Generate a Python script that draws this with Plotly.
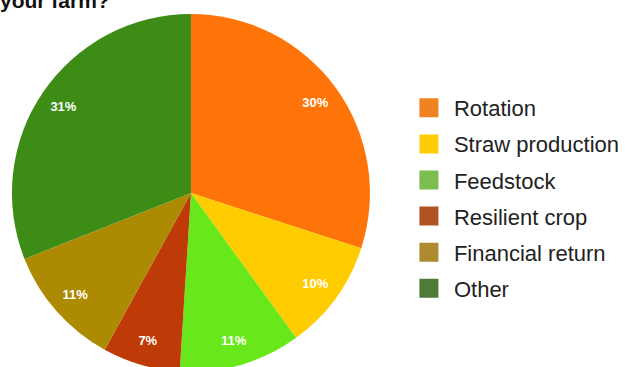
import plotly.graph_objects as go

# Survey answers, clockwise from 12 o'clock
categories = ["Rotation", "Straw production", "Feedstock", "Resilient crop", "Financial return", "Other"]
shares = [30, 10, 11, 7, 11, 31]
label_texts = ["30%", "10%", "11%", "7%", "11%", "31%"]

slice_colors = ["#FF7408", "#FFCC00", "#68E81A", "#BE3A06", "#AC8A02", "#3C8C16"]
legend_colors = ["#F08222", "#FFCC08", "#7BBD4F", "#B15225", "#AE8A31", "#4E7B38"]

W, H = 625, 380
pie_domain = dict(x=[2 / W, 388 / W], y=[(H - 372) / H, (H - 14) / H])

fig = go.Figure()

# Coloured slices
fig.add_trace(go.Pie(
    labels=categories,
    values=shares,
    textinfo="none",
    marker=dict(colors=slice_colors, line=dict(width=0)),
    sort=False,
    direction="clockwise",
    rotation=0,
    showlegend=False,
    hoverinfo="label+percent",
    domain=pie_domain,
))

# Same slices, transparent, used to set the percentage labels near the rim
fig.add_trace(go.Pie(
    labels=categories,
    values=shares,
    text=label_texts,
    textinfo="text",
    textposition="inside",
    insidetextorientation="horizontal",
    textfont=dict(family="Liberation Sans", size=13, color="white", weight="bold"),
    marker=dict(colors=["rgba(0,0,0,0)"] * len(shares), line=dict(width=0)),
    hole=0.72,
    sort=False,
    direction="clockwise",
    rotation=0,
    showlegend=False,
    hoverinfo="skip",
    domain=pie_domain,
))

# Legend entries with the softer key colours
for name, col in zip(categories, legend_colors):
    fig.add_trace(go.Scatter(
        x=[None], y=[None], mode="markers", name=name, legendgroup=name,
        marker=dict(symbol="square", size=16, color=col, line=dict(color=col, width=3)),
    ))

fig.add_annotation(
    text="<b>your farm?</b>", xref="paper", yref="paper", x=0, y=1 - 14 / H,
    xanchor="left", yanchor="bottom", showarrow=False, xshift=-2,
    font=dict(family="Liberation Sans", size=21, color="#111111"),
)

fig.update_layout(
    width=W, height=H,
    margin=dict(l=0, r=0, t=0, b=0),
    paper_bgcolor="white", plot_bgcolor="white",
    xaxis=dict(visible=False), yaxis=dict(visible=False),
    legend=dict(
        x=0.66, y=1 - 87 / H, xanchor="left", yanchor="top",
        font=dict(family="Liberation Sans", size=22, color="#222222"),
        traceorder="grouped", tracegroupgap=4.5, itemwidth=40,
        bgcolor="rgba(0,0,0,0)",
    ),
)

fig.write_html("out.html", post_script="document.documentElement.style.overflow='hidden';document.body.style.overflow='hidden';")
